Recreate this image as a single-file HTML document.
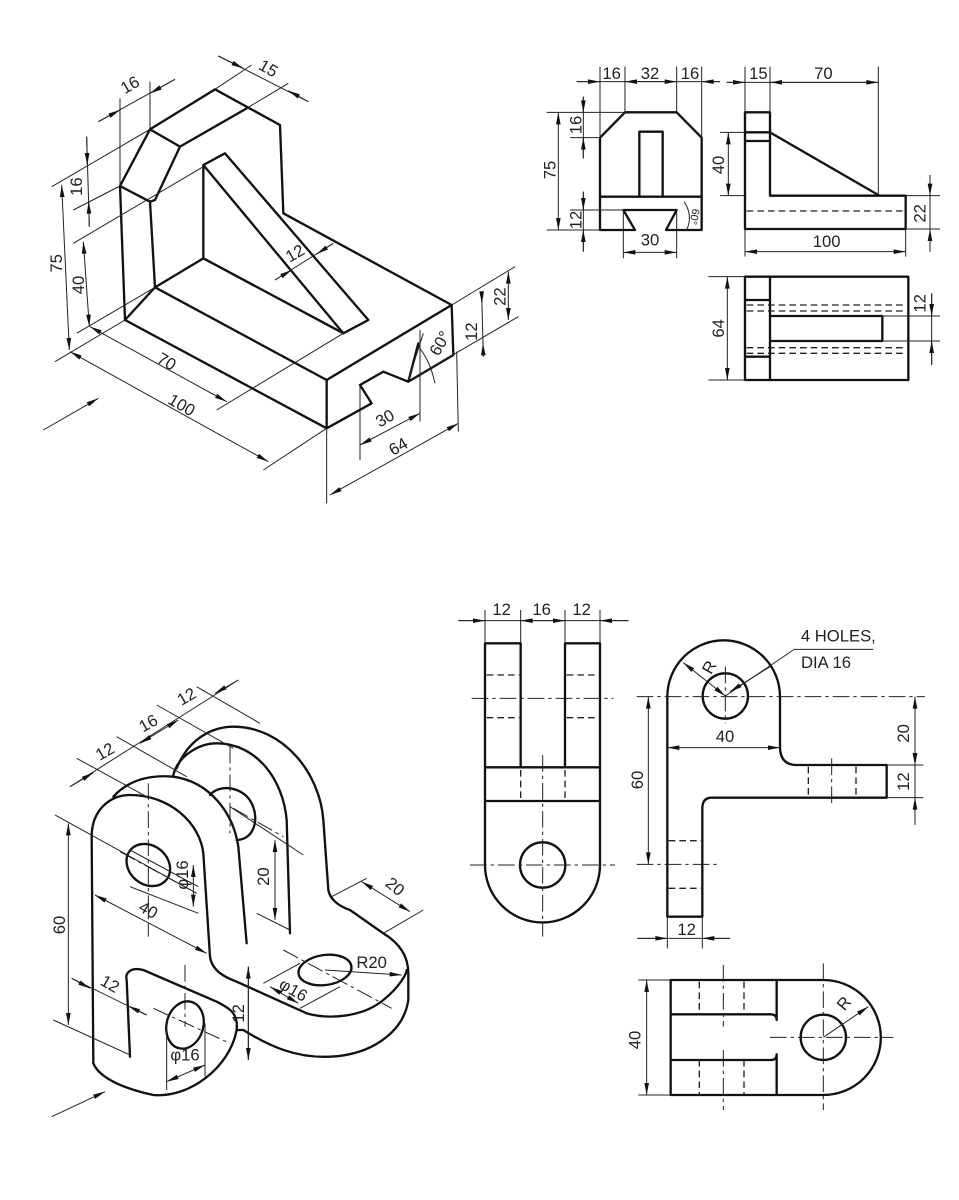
<!DOCTYPE html>
<html><head><meta charset="utf-8"><style>
html,body{margin:0;padding:0;background:#fff;}
svg{display:block}
.o{stroke:#111;stroke-width:7;fill:none;stroke-linejoin:round;stroke-linecap:round}
.t{stroke:#222;stroke-width:3;fill:none}
.d{stroke:#222;stroke-width:4;fill:none;stroke-dasharray:20,12}
.c{stroke:#222;stroke-width:3;fill:none;stroke-dasharray:50,12,10,12}
text{font-family:"Liberation Sans",sans-serif;font-size:50px;fill:#222;text-anchor:middle;dominant-baseline:central}
</style></head><body>
<svg width="959" height="1200" viewBox="0 0 959 1200" xmlns="http://www.w3.org/2000/svg">

<!-- ISO 1 -->
<g transform="translate(30,50) scale(0.33333)">
<path class="o" d="M360,238 L555,118 L750,225 L760,490 L1265,765 L890,990 L890,1135 L285,810 L270,408 Z"/>
<path class="o" d="M360,238 L450,290 L650,175 M450,290 L375,450 L360,455 L270,408 M360,455 L375,712 L285,810 M375,712 L890,990 M375,712 L520,625 L940,850 L1015,810 L585,310 L520,345 L940,850 M520,345 L520,625"/>
<path class="o" d="M890,1135 L1025,1060 L990,1005 L1060,965 L1135,995 L1270,915 L1265,765 M1135,995 L1165,880"/>
<path class="t" d="M270,145 L270,408 M360,95 L360,238 M555,118 L665,45 M650,175 L775,100 M65,410 L360,238 M130,480 L270,408 M130,580 L520,350 M75,935 L285,810 M140,850 L375,712 M560,1080 L940,850 M700,1260 L890,1135 M1265,765 L1455,650 M1140,990 L1465,800 M990,1005 L990,1230 M1170,840 L1170,1115 M890,1135 L890,1360 M1280,905 L1285,1145"/>
<path class="t" d="M205,215 L435,88 M565,18 L835,155"/>
<path class="t ae" d="M205,215 L270,180"/><path class="t ae" d="M435,88 L360,130"/>
<path class="t ae" d="M565,18 L640,55"/><path class="t ae" d="M835,155 L775,122"/>
<path class="t as ae" d="M95,405 L118,900"/>
<path class="t" d="M170,260 L178,530"/><path class="t ae" d="M170,260 L172,345"/><path class="t ae" d="M178,530 L176,455"/>
<path class="t as ae" d="M160,575 L178,830"/>
<path class="t as ae" d="M180,830 L590,1055"/>
<path class="t as ae" d="M120,905 L715,1235"/>
<path class="t" d="M735,690 L910,580"/><path class="t ae" d="M735,690 L785,660"/><path class="t ae" d="M910,580 L860,612"/>
<path class="t as ae" d="M1435,665 L1435,810"/>
<path class="t" d="M1355,730 L1360,920"/><path class="t ae" d="M1355,730 L1356,760"/><path class="t ae" d="M1360,920 L1359,880"/>
<path class="t as ae" d="M990,1185 L1170,1090"/>
<path class="t as ae" d="M900,1335 L1285,1120"/>
<path class="t" d="M1180,850 L1135,990 M1165,890 Q1200,930 1215,1000"/>
<path class="t ae" d="M40,1140 L205,1045"/>
<text transform="translate(300,105) rotate(-30)">16</text>
<text transform="translate(715,55) rotate(30)">15</text>
<text transform="translate(80,640) rotate(-90)">75</text>
<text transform="translate(140,410) rotate(-90)">16</text>
<text transform="translate(145,705) rotate(-90)">40</text>
<text transform="translate(410,935) rotate(30)">70</text>
<text transform="translate(455,1065) rotate(30)">100</text>
<text transform="translate(795,610) rotate(-30)">12</text>
<text transform="translate(1410,740) rotate(-90)">22</text>
<text transform="translate(1325,845) rotate(-90)">12</text>
<text transform="translate(1230,880) rotate(-60)">60°</text>
<text transform="translate(1065,1105) rotate(-30)">30</text>
<text transform="translate(1105,1190) rotate(-30)">64</text>
</g>

<!-- Top-right views -->
<g transform="translate(540,55) scale(0.33333)">
<path class="o" d="M180,525 L180,248 L255,172 L410,172 L485,248 L485,525 L378,525 L410,465 L250,465 L285,525 Z M180,425 L485,425 M298,230 L368,230 L368,425 L298,425 Z"/>
<path class="t" d="M180,35 L180,248 M255,35 L255,172 M410,35 L410,172 M485,35 L485,248 M20,172 L255,172 M90,248 L180,248 M20,525 L180,525 M90,465 L250,465 M250,465 L250,610 M410,465 L410,610"/>
<path class="t" d="M110,80 L540,80"/><path class="t ae" d="M110,80 L180,80"/><path class="t as ae" d="M255,80 L410,80"/><path class="t ae" d="M540,80 L485,80"/>
<path class="t as ae" d="M55,172 L55,525"/>
<path class="t" d="M130,125 L130,310"/><path class="t ae" d="M130,125 L130,172"/><path class="t ae" d="M130,310 L130,248"/>
<path class="t" d="M130,410 L130,590"/><path class="t ae" d="M130,410 L130,465"/><path class="t ae" d="M130,590 L130,525"/>
<path class="t as ae" d="M250,592 L410,592"/>
<path class="t" d="M432,440 Q460,480 440,525"/>
<text x="215" y="55">16</text><text x="330" y="55">32</text><text x="450" y="55">16</text>
<text transform="translate(30,345) rotate(-90)">75</text>
<text transform="translate(108,210) rotate(-90)">16</text>
<text transform="translate(108,495) rotate(-90)">12</text>
<text x="330" y="555">30</text>
<text transform="translate(462,485) rotate(100)" style="font-size:32px">60°</text>
<path class="o" d="M615,172 L690,172 L690,422 M615,172 L615,522 L1097,522 L1097,422 L690,422 M615,232 L690,232 M615,258 L690,258 M690,232 L1015,420"/>
<path class="d" d="M620,468 L1090,468"/>
<path class="t" d="M615,35 L615,172 M690,35 L690,172 M1015,35 L1015,420 M540,232 L615,232 M540,422 L615,422 M1097,422 L1200,422 M1097,522 L1200,522 M615,522 L615,605 M1097,522 L1097,605"/>
<path class="t" d="M560,82 L1015,82"/><path class="t ae" d="M560,82 L615,82"/><path class="t as ae" d="M690,82 L1015,82"/>
<path class="t as ae" d="M565,232 L565,422"/>
<path class="t" d="M1170,360 L1170,590"/><path class="t ae" d="M1170,360 L1170,422"/><path class="t ae" d="M1170,590 L1170,522"/>
<path class="t as ae" d="M615,590 L1097,590"/>
<text x="655" y="55">15</text><text x="850" y="55">70</text>
<text transform="translate(535,330) rotate(-90)">40</text>
<text transform="translate(1140,475) rotate(-90)">22</text>
<text x="860" y="560">100</text>
<path class="o" d="M615,665 L1105,665 L1105,975 L615,975 Z M690,665 L690,975 M615,735 L690,735 M615,905 L690,905 M690,783 L1027,783 L1027,858 L690,858"/>
<path class="d" d="M620,750 L1100,750 M620,768 L1100,768 M620,878 L1100,878 M620,895 L1100,895"/>
<path class="t" d="M505,665 L615,665 M505,975 L615,975 M1027,783 L1200,783 M1027,858 L1200,858"/>
<path class="t as ae" d="M562,665 L562,975"/>
<path class="t" d="M1175,715 L1175,930"/><path class="t ae" d="M1175,715 L1175,783"/><path class="t ae" d="M1175,930 L1175,858"/>
<text transform="translate(535,820) rotate(-90)">64</text>
<text transform="translate(1140,745) rotate(-90)">12</text>
</g>

<!-- ISO 2 -->
<g transform="translate(30,680) scale(0.33333)">
<path class="o" d="M190,1150 L185,470 C185,390 240,345 300,345 C420,345 510,430 520,520 L540,830 C545,870 580,890 620,905 L830,1000"/>
<path class="o" d="M250,350 C300,295 370,285 430,290 C540,305 610,400 625,500 L650,790"/>
<path class="o" d="M430,285 C445,225 510,190 560,190 C680,190 760,300 770,420 L780,760"/>
<path class="o" d="M440,265 C480,165 560,140 610,140 C760,140 870,280 880,420 L895,630 C900,660 930,680 960,690 L1060,760 C1110,790 1135,830 1135,880 L1135,960 C1120,1060 1020,1125 900,1130 C800,1135 720,1100 640,1050"/>
<path class="o" d="M830,1000 C900,1020 1000,1010 1060,960 C1110,920 1130,880 1130,870"/>
<path class="o" d="M190,1150 C210,1200 300,1230 370,1245 C480,1255 600,1160 620,1050 C625,1000 600,985 560,965 L340,870 C300,860 285,880 290,900 L300,1130"/>
<path class="o" d="M620,1050 L640,1050"/>
<ellipse class="o" cx="355" cy="555" rx="70" ry="58" transform="rotate(40 355 555)"/>
<path class="o" d="M540,345 C570,310 640,320 665,370 C690,420 670,480 620,480"/>
<ellipse class="o" cx="465" cy="1035" rx="55" ry="72" transform="rotate(15 465 1035)"/>
<ellipse class="o" cx="885" cy="870" rx="80" ry="45" transform="rotate(-8 885 870)"/>
<path class="c" d="M355,310 L355,770 M600,200 L600,460 M465,855 L465,1040 M270,515 L500,640 M760,810 L1085,985 M370,985 L600,1090 M610,385 L760,470"/>
<path class="t" d="M120,320 L625,0 M140,235 L350,350 M260,170 L470,290 M380,75 L610,205 M500,20 L690,130 M75,405 L500,640 M70,1020 L300,1125 M300,510 L505,620 M300,620 L505,700 M600,380 L820,525 M680,700 L780,750 M905,650 L1010,595 M1060,760 L1180,690 M700,910 L810,850 M810,985 L930,920 M125,895 L350,1005 M410,1040 L410,1230 M525,1030 L525,1190 M655,860 L655,1140"/>
<path class="t ae" d="M120,320 L190,278"/><path class="t as ae" d="M330,190 L445,120"/><path class="t ae" d="M625,0 L555,40"/>
<path class="t as ae" d="M115,430 L115,1035"/>
<path class="t as ae" d="M490,555 L490,680"/>
<path class="t as ae" d="M195,645 L530,820"/>
<path class="t as ae" d="M735,480 L735,720"/>
<path class="t as ae" d="M995,605 L1140,695"/>
<path class="t ae" d="M885,870 L1115,885"/>
<path class="t as ae" d="M720,920 L805,970"/>
<path class="t as ae" d="M655,860 L655,1140"/>
<path class="t ae" d="M125,895 L180,925"/><path class="t ae" d="M350,1005 L295,978"/>
<path class="t as ae" d="M410,1205 L525,1155"/>
<path class="t ae" d="M65,1310 L225,1235"/>
<text transform="translate(225,215) rotate(-30)">12</text>
<text transform="translate(355,130) rotate(-30)">16</text>
<text transform="translate(470,50) rotate(-30)">12</text>
<text transform="translate(88,735) rotate(-90)">60</text>
<text transform="translate(458,585) rotate(-90)">φ16</text>
<text transform="translate(355,690) rotate(30)">40</text>
<text transform="translate(700,590) rotate(-90)">20</text>
<text transform="translate(1095,620) rotate(40)">20</text>
<text x="1025" y="848">R20</text>
<text transform="translate(790,930) rotate(30)">φ16</text>
<text transform="translate(625,1000) rotate(-90)">12</text>
<text transform="translate(240,912) rotate(30)">12</text>
<text x="465" y="1125">φ16</text>
</g>

<!-- Bottom-right views -->
<g transform="translate(450,590) scale(0.33333)">
<path class="o" d="M105,160 L105,825 A172,172 0 0 0 450,825 L450,160 L345,160 L345,532 L212,532 L212,160 Z M105,532 L450,532 M105,633 L450,633"/>
<circle class="o" cx="278" cy="825" r="68"/>
<path class="d" d="M212,540 L212,633 M345,540 L345,633 M110,255 L208,255 M110,383 L208,383 M350,255 L446,255 M350,383 L446,383"/>
<path class="c" d="M65,325 L490,325 M60,825 L495,825 M278,495 L278,1040"/>
<path class="t" d="M105,60 L105,160 M212,60 L212,160 M345,60 L345,160 M450,60 L450,160 M25,92 L535,92"/>
<path class="t ae" d="M25,92 L105,92"/><path class="t as ae" d="M212,92 L345,92"/><path class="t ae" d="M535,92 L450,92"/>
<text x="155" y="58">12</text><text x="275" y="58">16</text><text x="395" y="58">12</text>
<path class="o" d="M652,320 A168,168 0 0 1 990,320 L990,470 Q990,525 1040,525 L1310,525 L1310,623 L785,623 Q757,623 757,655 L757,980 L652,980 Z"/>
<circle class="o" cx="826" cy="318" r="68"/>
<path class="c" d="M560,320 L1425,320 M560,823 L800,823 M1145,505 L1145,640 M826,230 L826,400"/>
<path class="d" d="M1075,530 L1075,623 M1218,530 L1218,623 M656,752 L753,752 M656,895 L753,895"/>
<path class="t" d="M1310,525 L1420,525 M1310,623 L1420,623 M652,980 L652,1075 M757,980 L757,1075 M1030,178 L1270,178 M826,318 L1030,180"/>
<path class="t as ae" d="M595,320 L595,823"/>
<path class="t as ae" d="M652,473 L990,473"/>
<path class="t as ae" d="M1395,320 L1395,525"/>
<path class="t" d="M1395,470 L1395,705"/><path class="t ae" d="M1395,470 L1395,525"/><path class="t ae" d="M1395,705 L1395,623"/>
<path class="t" d="M562,1045 L840,1045"/><path class="t ae" d="M562,1045 L652,1045"/><path class="t ae" d="M840,1045 L757,1045"/>
<path class="t as ae" d="M700,218 L826,318"/>
<path class="t ae" d="M960,230 L840,305"/>
<text transform="translate(562,570) rotate(-90)">60</text>
<text x="825" y="440">40</text>
<text transform="translate(1360,430) rotate(-90)">20</text>
<text transform="translate(1360,575) rotate(-90)">12</text>
<text x="710" y="1018">12</text>
<text transform="translate(778,232) rotate(-60)">R</text>
<text x="1165" y="138">4 HOLES,</text>
<text x="1128" y="218">DIA 16</text>
<path class="o" d="M662,1170 L1120,1170 A172,172 0 0 1 1120,1515 L662,1515 Z M980,1170 L980,1290 Q980,1273 962,1273 L662,1273 M980,1515 L980,1393 Q980,1410 962,1410 L662,1410"/>
<circle class="o" cx="1120" cy="1342" r="68"/>
<path class="d" d="M748,1175 L748,1273 M882,1175 L882,1273 M748,1410 L748,1512 M882,1410 L882,1512"/>
<path class="c" d="M820,1125 L820,1310 M820,1380 L820,1560 M960,1342 L1330,1342 M1120,1120 L1120,1560"/>
<path class="t" d="M565,1170 L662,1170 M565,1515 L662,1515"/>
<path class="t as ae" d="M590,1170 L590,1515"/>
<path class="t ae" d="M1120,1342 L1255,1250"/>
<text transform="translate(555,1350) rotate(-90)">40</text>
<text transform="translate(1182,1240) rotate(-50)">R</text>
</g>
</svg>
<script>
(function(){
var NS="http://www.w3.org/2000/svg";
function head(g,tx,ty,fx,fy){
 var dx=tx-fx,dy=ty-fy,l=Math.sqrt(dx*dx+dy*dy)||1;dx/=l;dy/=l;
 var L=36,W=7,bx=tx-dx*L,by=ty-dy*L;
 var p=document.createElementNS(NS,"polygon");
 p.setAttribute("points",tx+","+ty+" "+(bx-dy*W)+","+(by+dx*W)+" "+(bx+dy*W)+","+(by-dx*W));
 p.setAttribute("fill","#111");
 g.appendChild(p);
}
var ps=document.querySelectorAll("path.ae");
for(var i=0;i<ps.length;i++){
 var n=ps[i].getAttribute("d").match(/-?\d+(\.\d+)?/g).map(Number);
 var g=ps[i].parentNode;
 head(g,n[2],n[3],n[0],n[1]);
 if(ps[i].classList.contains("as")) head(g,n[0],n[1],n[2],n[3]);
}
})();
</script>
</body></html>
